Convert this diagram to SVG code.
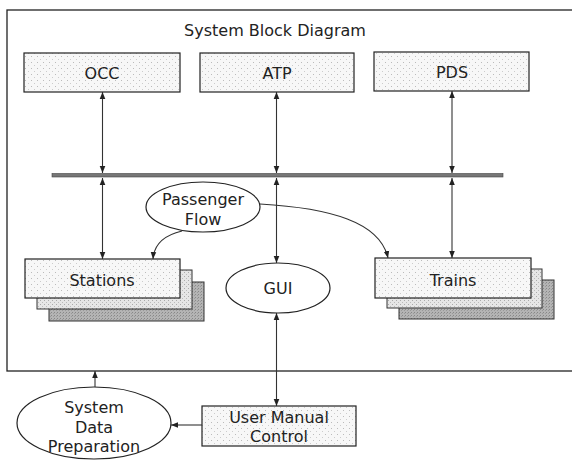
<svg xmlns="http://www.w3.org/2000/svg" width="572" height="461" viewBox="0 0 572 461">
  <style>
    .box { fill: url(#stipple); stroke: #222; stroke-width: 1.2; }
    .mid { fill: url(#stippleMid); stroke: #333; stroke-width: 1; }
    .back { fill: url(#stippleDark); stroke: #333; stroke-width: 1; }
    .ell { fill: #fff; stroke: #222; stroke-width: 1.2; }
    .lbl { font-family: "DejaVu Sans", "Liberation Sans", sans-serif; font-size: 16px; fill: #222; text-anchor: middle; }
    .conn { fill: none; stroke: #333; stroke-width: 1.1; }
  </style>
  <defs>
    <pattern id="stipple" width="6" height="6" patternUnits="userSpaceOnUse">
      <rect width="6" height="6" fill="#f7f7f7"/>
      <rect x="1" y="2" width="1" height="1" fill="#bbb"/>
      <rect x="4" y="5" width="1" height="1" fill="#ccc"/>
    </pattern>
    <pattern id="stippleMid" width="4" height="4" patternUnits="userSpaceOnUse">
      <rect width="4" height="4" fill="#e6e6e6"/>
      <rect x="0" y="0" width="1" height="1" fill="#aaa"/>
      <rect x="2" y="2" width="1" height="1" fill="#bbb"/>
    </pattern>
    <pattern id="stippleDark" width="3" height="3" patternUnits="userSpaceOnUse">
      <rect width="3" height="3" fill="#b4b4b4"/>
      <rect x="0" y="0" width="1" height="1" fill="#888"/>
      <rect x="2" y="1" width="1" height="1" fill="#999"/>
    </pattern>
    <marker id="arr" viewBox="0 0 10 10" refX="10" refY="5" markerWidth="7" markerHeight="7" orient="auto-start-reverse" markerUnits="userSpaceOnUse">
      <path d="M0,1 L10,5 L0,9 Z" fill="#222"/>
    </marker>
  </defs>

  <!-- outer frame -->
  <rect x="7" y="10" width="566" height="361" fill="none" stroke="#222" stroke-width="1.3"/>
  <text class="lbl" x="275" y="36">System Block Diagram</text>

  <!-- bus -->
  <rect x="52" y="173.5" width="451" height="3.5" fill="#777" stroke="#444" stroke-width="0.6"/>

  <g id="occ">
    <rect class="box" x="24" y="53" width="156" height="39"/>
    <text class="lbl" x="102" y="79">OCC</text>
  </g>
  <g id="atp">
    <rect class="box" x="200" y="53" width="154" height="39"/>
    <text class="lbl" x="277" y="79">ATP</text>
  </g>
  <g id="pds">
    <rect class="box" x="374" y="52" width="155" height="39"/>
    <text class="lbl" x="452" y="78">PDS</text>
  </g>

  <g id="stations">
    <rect class="back" x="49" y="282" width="155" height="39"/>
    <rect class="mid" x="37" y="270" width="155" height="39"/>
    <rect class="box" x="25" y="259" width="155" height="39"/>
    <text class="lbl" x="102" y="286">Stations</text>
  </g>
  <g id="trains">
    <rect class="back" x="399" y="280" width="155" height="39"/>
    <rect class="mid" x="387" y="269" width="155" height="39"/>
    <rect class="box" x="375" y="258" width="156" height="40"/>
    <text class="lbl" x="453" y="286">Trains</text>
  </g>

  <g id="passenger-flow">
    <ellipse class="ell" cx="203" cy="207" rx="57" ry="25"/>
    <text class="lbl" x="203" y="205">Passenger</text>
    <text class="lbl" x="203" y="225">Flow</text>
  </g>
  <g id="gui">
    <ellipse class="ell" cx="278" cy="288" rx="52" ry="25"/>
    <text class="lbl" x="278" y="294">GUI</text>
  </g>
  <g id="user-manual-control">
    <rect class="box" x="202" y="406" width="154" height="40"/>
    <text class="lbl" x="279" y="423">User Manual</text>
    <text class="lbl" x="279" y="442">Control</text>
  </g>
  <g id="system-data-preparation">
    <ellipse class="ell" cx="94" cy="423" rx="77" ry="36"/>
    <text class="lbl" x="94" y="413">System</text>
    <text class="lbl" x="94" y="433">Data</text>
    <text class="lbl" x="94" y="452">Preparation</text>
  </g>

  <g id="connectors">
    <line class="conn" x1="102.5" y1="92" x2="102.5" y2="173" marker-start="url(#arr)" marker-end="url(#arr)"/>
    <line class="conn" x1="276.5" y1="92" x2="276.5" y2="173" marker-start="url(#arr)" marker-end="url(#arr)"/>
    <line class="conn" x1="452" y1="91" x2="452" y2="173" marker-start="url(#arr)" marker-end="url(#arr)"/>
    <line class="conn" x1="102.5" y1="178" x2="102.5" y2="259" marker-start="url(#arr)" marker-end="url(#arr)"/>
    <line class="conn" x1="276.5" y1="178" x2="276.5" y2="263" marker-start="url(#arr)" marker-end="url(#arr)"/>
    <line class="conn" x1="452" y1="178" x2="452" y2="258" marker-start="url(#arr)" marker-end="url(#arr)"/>
    <line class="conn" x1="276.5" y1="313" x2="276.5" y2="406" marker-start="url(#arr)" marker-end="url(#arr)"/>
    <path class="conn" d="M182,231 C165,235 154,244 153,259" marker-end="url(#arr)"/>
    <path class="conn" d="M260,204 C330,208 380,222 388,258" marker-end="url(#arr)"/>
    <line class="conn" x1="95" y1="387" x2="95" y2="371" marker-end="url(#arr)"/>
    <line class="conn" x1="202" y1="425" x2="171" y2="425" marker-end="url(#arr)"/>
  </g>
</svg>
